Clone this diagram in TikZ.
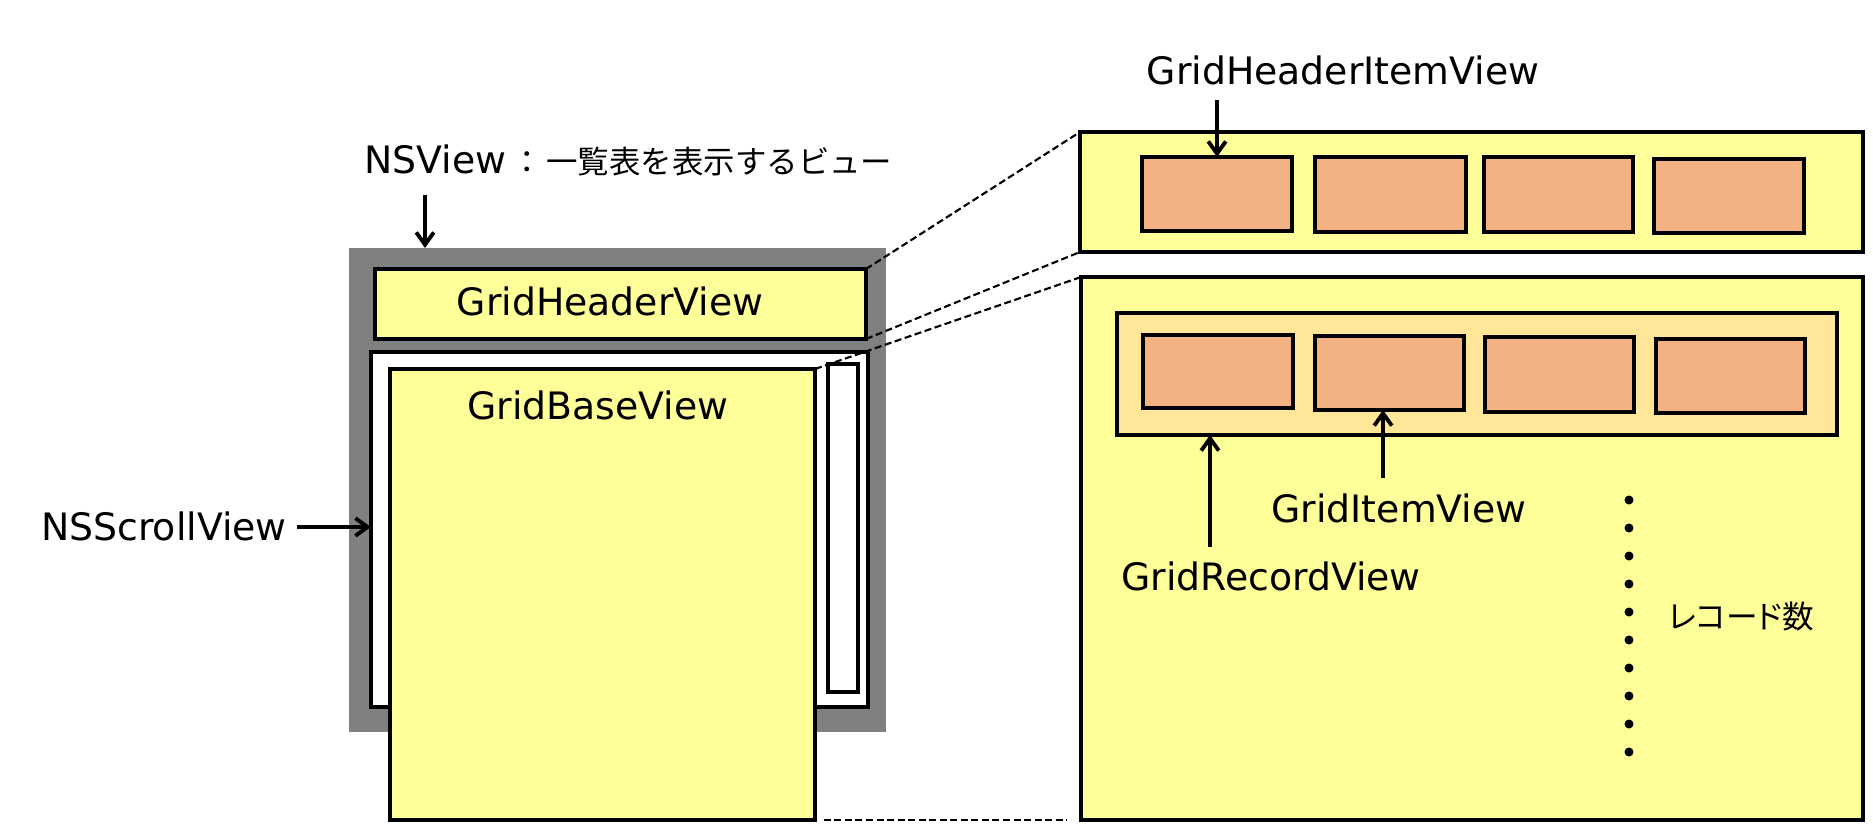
\documentclass[tikz,border=0pt]{standalone}
\usepackage{fontspec}
\setmainfont{DejaVu Sans}
\newfontfamily\jp{Noto Sans CJK JP}
\newfontfamily\jpp[RawFeature={+palt}]{Noto Sans CJK JP}
\usetikzlibrary{arrows.meta,fit}
\definecolor{paleyellow}{HTML}{FFFF99}
\definecolor{itemorange}{HTML}{F4B183}
\definecolor{recordyellow}{HTML}{FFE699}
\definecolor{nsgray}{HTML}{808080}
\begin{document}
\begin{tikzpicture}[x=0.02cm,y=-0.02cm,
  box/.style={draw=black, line width=1.8pt, inner sep=0pt, outer sep=0pt},
  ybox/.style={box, fill=paleyellow},
  itembox/.style={box, fill=itemorange},
  recbox/.style={box, fill=recordyellow},
  wbox/.style={box, fill=white},
  lbl/.style={inner sep=0pt, font=\fontsize{21.5pt}{26pt}\selectfont},
  jplbl/.style={inner sep=0pt, font=\fontsize{18pt}{23pt}\selectfont\jpp},
  arr/.style={line width=2.3pt, -{Straight Barb[length=7pt,width=10pt,line width=2.2pt]}},
  zoomline/.style={line width=1.2pt, dash pattern=on 4pt off 2pt}
]
\useasboundingbox (0,0) rectangle (1873,829);

% left: view hierarchy
\node[fill=nsgray, inner sep=0pt, outer sep=0pt, fit={(349,248) (886,732)}] (nsview) {};
\node[wbox, fit={(371,352) (868,707)}] (scroll) {};
\node[ybox, fit={(375,269) (866,339)}] (header) {};
\node[lbl, anchor=base] (headerlbl) at (610,315) {GridHeaderView};
\node[wbox, fit={(828,364) (858,692)}] (vbar) {};
\node[ybox, fit={(390,369) (815,820)}] (base) {};
\node[lbl, anchor=base] (baselbl) at (598,419) {GridBaseView};

% labels left
\node[lbl, anchor=base west] (nsviewlbl) at (364,173) {NSView{\fontsize{17.9pt}{24pt}\selectfont\jp\hspace{3pt}：\hspace{2pt}一覧表を表示するビュー}};
\coordinate (nsarrow) at (425,195);
\draw[arr] (nsarrow) -- (nsarrow |- nsview.north);

\node[lbl, anchor=base east] (scrolllbl) at (287,540) {NSScrollView};
\coordinate (scarrow) at (297,527);
\draw[arr] (scarrow) -- (scarrow -| scroll.west);

% right top: header zoom
\node[ybox, fit={(1080,132) (1863,252)}] (hdrzoom) {};
\node[itembox, fit={(1142,157) (1292,231)}] (hi1) {};
\node[itembox, fit={(1315,157) (1466,232)}] (hi2) {};
\node[itembox, fit={(1484,157) (1633,232)}] (hi3) {};
\node[itembox, fit={(1654,159) (1804,233)}] (hi4) {};

\node[lbl, anchor=base] (hilbl) at (1343,84) {GridHeaderItemView};
\coordinate (hiarrow) at (1217,100);
\draw[arr] (hiarrow) -- (hiarrow |- hi1.north);

% right bottom: base zoom
\node[ybox, fit={(1081,277) (1863,820)}] (basezoom) {};
\node[recbox, fit={(1117,313) (1837,435)}] (record) {};
\node[itembox, fit={(1143,335) (1293,408)}] (ri1) {};
\node[itembox, fit={(1315,336) (1464,410)}] (ri2) {};
\node[itembox, fit={(1485,337) (1634,412)}] (ri3) {};
\node[itembox, fit={(1656,339) (1805,413)}] (ri4) {};

\node[lbl, anchor=base] (itemlbl) at (1399,522) {GridItemView};
\coordinate (itarrow) at (1383,478);
\draw[arr] (itarrow) -- (itarrow |- ri2.south);

\node[lbl, anchor=base] (reclbl) at (1271,590) {GridRecordView};
\coordinate (rcarrow) at (1210,547);
\draw[arr] (rcarrow) -- (rcarrow |- record.south);

\foreach \k in {0,...,9} \fill (1629,500+28*\k) circle[radius=4.5];
\node[jplbl, anchor=west] (countlbl) at (1668,617) {レコード数};

% zoom lines
\draw[zoomline] (header.north east) -- (hdrzoom.north west);
\draw[zoomline] (header.south east) -- (hdrzoom.south west);
\draw[zoomline] (base.north east) -- (basezoom.north west);
\draw[zoomline, shorten <=5pt, shorten >=8pt] (base.south east) -- (basezoom.south west);
\end{tikzpicture}
\end{document}
